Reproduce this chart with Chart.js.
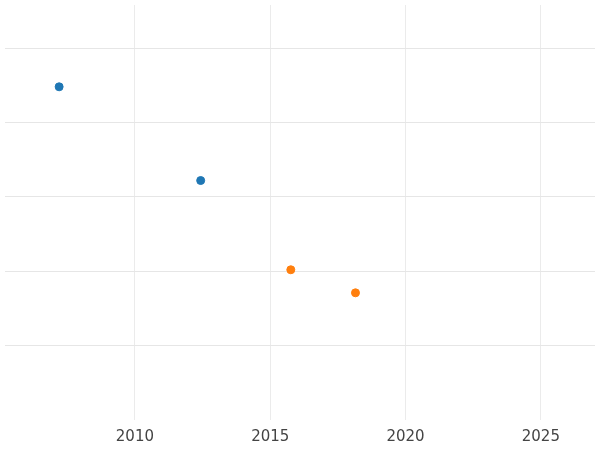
<!DOCTYPE html>
<html>
<head>
<script src="https://cdn.jsdelivr.net/npm/chart.js@4"></script>
<style>
  body { margin: 0; background: #fff; }
  #wrap { width: 600px; height: 450px; }
</style>
</head>
<body>
<div id="wrap"><canvas id="chart"></canvas></div>
<script>
const blueYears = [2007.2, 2012.43];
const blueValues = [4.48, 3.22];
const orangeYears = [2015.76, 2018.15];
const orangeValues = [2.02, 1.71];
const xTicks = [2010, 2015, 2020, 2025];

const toPoints = (xs, ys) => xs.map((x, i) => ({ x: x, y: ys[i] }));

new Chart(document.getElementById("chart").getContext("2d"), {
  type: "scatter",
  data: {
    datasets: [
      { data: toPoints(blueYears, blueValues), backgroundColor: "#1f77b4", borderColor: "#1f77b4", pointRadius: 4 },
      { data: toPoints(orangeYears, orangeValues), backgroundColor: "#ff7f0e", borderColor: "#ff7f0e", pointRadius: 4 }
    ]
  },
  options: {
    responsive: true,
    maintainAspectRatio: false,
    animation: false,
    layout: { padding: { left: -5, right: -5, top: -5, bottom: -4 } },
    plugins: { legend: { display: false }, tooltip: { enabled: false } },
    scales: {
      x: {
        type: "linear",
        min: 2005.2,
        max: 2027,
        afterBuildTicks: axis => { axis.ticks = xTicks.map(v => ({ value: v })); },
        ticks: { color: "#444", font: { family: "DejaVu Sans", size: 15 }, padding: 8, callback: v => String(v) },
        grid: { color: "#ebebeb", drawTicks: false },
        border: { display: false }
      },
      y: {
        min: 0,
        max: 5.58,
        afterBuildTicks: axis => { axis.ticks = [1, 2, 3, 4, 5].map(v => ({ value: v })); },
        ticks: { display: false },
        grid: { color: "#e6e6e6", drawTicks: false },
        border: { display: false }
      }
    }
  }
});
</script>
</body>
</html>
